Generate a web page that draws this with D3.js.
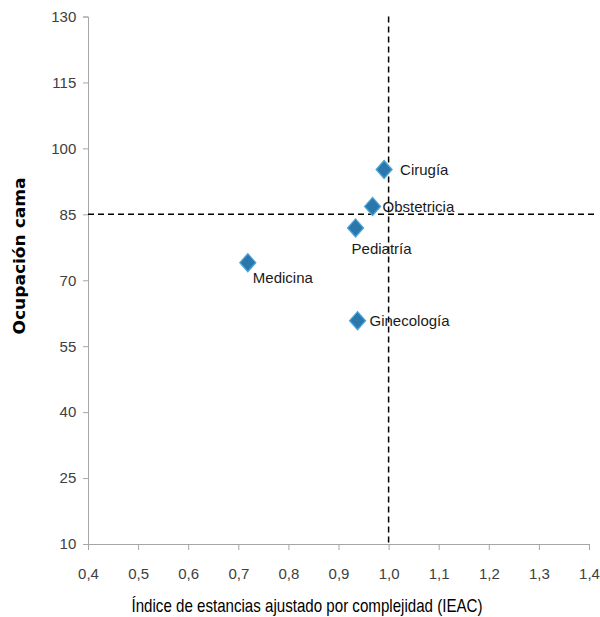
<!DOCTYPE html>
<html><head><meta charset="utf-8">
<script src="https://cdn.jsdelivr.net/npm/d3@7"></script>
<style>body{margin:0;background:#fff}</style>
</head><body>
<script>
const categories = ["Cirugía","Obstetricia","Pediatría","Medicina","Ginecología"];
const ieac = [0.991, 0.968, 0.934, 0.719, 0.938];
const ocupacion = [95.2, 86.8, 81.9, 74.0, 60.8];
const xTicks = [0.4,0.5,0.6,0.7,0.8,0.9,1.0,1.1,1.2,1.3,1.4];
const yTicks = [10,25,40,55,70,85,100,115,130];
const refX = 1.0, refY = 85;
const labelOffsets = [[16,6],[10,6],[-4,26],[5,20],[12,5]];

const W=600,H=617;
const svg=d3.select("body").append("svg").attr("width",W).attr("height",H);
const x=d3.scaleLinear().domain([0.4,1.4]).range([88,589]);
const y=d3.scaleLinear().domain([10,130]).range([544,16.5]);
const font="'Liberation Sans',Arial,sans-serif";

const xa=svg.append("g").attr("transform","translate(0,544)")
 .call(d3.axisBottom(x).tickValues(xTicks).tickSize(6).tickFormat(d=>d3.format(".1f")(d).replace(".",",")));
const ya=svg.append("g").attr("transform","translate(88,0)")
 .call(d3.axisLeft(y).tickValues(yTicks).tickSize(5));
[xa,ya].forEach(a=>{
 a.select(".domain").attr("stroke","#a6a6a6");
 a.selectAll(".tick line").attr("stroke","#a6a6a6");
 a.selectAll(".tick text").attr("font-family",font).attr("font-size",15).attr("fill","#404040");
});
xa.selectAll(".tick text").attr("dy","1.75em");
ya.selectAll(".tick text").attr("dx","-0.25em");

// reference lines
svg.append("line").attr("x1",x(refX)).attr("x2",x(refX)).attr("y1",y(130)).attr("y2",y(10))
 .attr("stroke","#000").attr("stroke-width",1.5).attr("stroke-dasharray","6,4");
svg.append("line").attr("x1",x(0.4)).attr("x2",x(1.413)).attr("y1",y(refY)).attr("y2",y(refY))
 .attr("stroke","#000").attr("stroke-width",1.5).attr("stroke-dasharray","6,4");

const data=categories.map((c,i)=>({c,x:ieac[i],y:ocupacion[i],o:labelOffsets[i]}));
const diamond="M0,-9L8,0L0,9L-8,0Z";
svg.selectAll("path.pt").data(data).join("path").attr("class","pt")
 .attr("d",diamond).attr("transform",d=>`translate(${x(d.x)},${y(d.y)})`)
 .attr("fill","#2a77ad").attr("stroke","#4fa6d6").attr("stroke-width",1.3);
svg.selectAll("text.lbl").data(data).join("text").attr("class","lbl")
 .attr("x",d=>x(d.x)+d.o[0]).attr("y",d=>y(d.y)+d.o[1])
 .attr("font-family",font).attr("font-size",15).attr("fill","#1a1a1a").text(d=>d.c);

svg.append("text").attr("transform","translate(25,256) rotate(-90)").attr("text-anchor","middle")
 .attr("font-family","'DejaVu Sans',Verdana,sans-serif").attr("font-weight","bold").attr("font-size",15)
 .attr("textLength",157).attr("lengthAdjust","spacingAndGlyphs")
 .attr("fill","#000").text("Ocupación cama");
svg.append("text").attr("x",307).attr("y",612).attr("text-anchor","middle")
 .attr("font-family",font).attr("font-size",19).attr("fill","#000")
 .attr("textLength",351).attr("lengthAdjust","spacingAndGlyphs")
 .text("Índice de estancias ajustado por complejidad (IEAC)");
</script>
</body></html>
